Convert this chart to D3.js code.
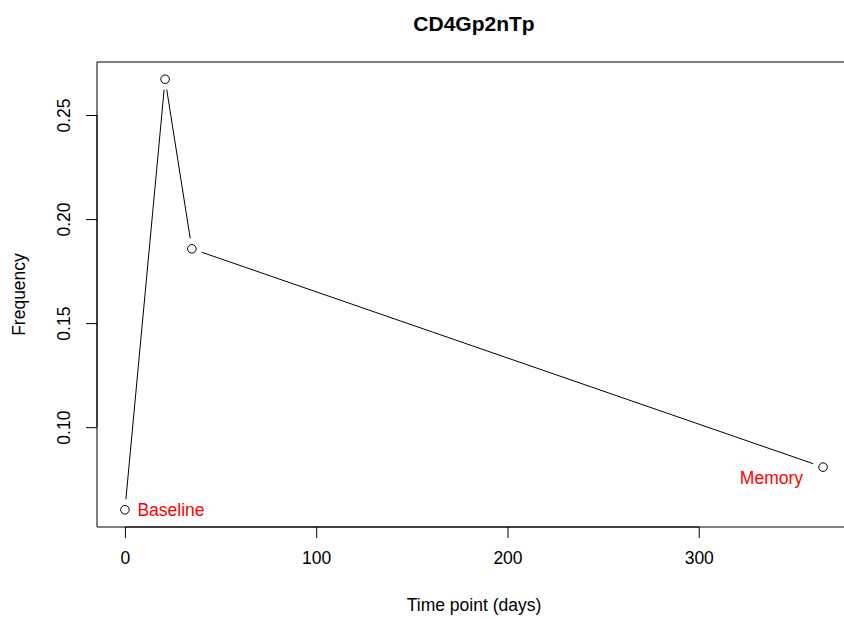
<!DOCTYPE html>
<html><head><meta charset="utf-8">
<script src="https://cdn.jsdelivr.net/npm/d3@7"></script>
<style>html,body{margin:0;padding:0;background:#fff;overflow:hidden}svg{display:block;font-family:"Liberation Sans",Arial,sans-serif}</style>
</head><body>
<svg id="c" width="844" height="619"></svg>
<script>
const days = [0, 21, 35, 365];
const freq = [0.0603, 0.2672, 0.1857, 0.0808];
const pointLabels = ["Baseline", "", "", "Memory"];
const xTicks = [0, 100, 200, 300];
const yTicks = [0.10, 0.15, 0.20, 0.25];
const title = "CD4Gp2nTp";
const xTitle = "Time point (days)";
const yTitle = "Frequency";

const svg = d3.select("#c");
const L = 97, R = 851, T = 62, B = 527;
const xPad = (d3.max(days) - d3.min(days)) * 0.04;
const yPad = (d3.max(freq) - d3.min(freq)) * 0.04;
const x = d3.scaleLinear().domain([d3.min(days) - xPad, d3.max(days) + xPad]).range([L, R]);
const y = d3.scaleLinear().domain([d3.min(freq) - yPad, d3.max(freq) + yPad]).range([B, T]);

// title
svg.append("text").attr("x", 474).attr("y", 31).attr("text-anchor", "middle")
  .attr("font-weight", "bold").attr("font-size", 21).text(title);

// box (right side falls outside the canvas)
svg.append("path").attr("d", `M${R},${T}H${L}V${B}H${R}`)
  .attr("fill", "none").attr("stroke", "#000").attr("stroke-width", 1);

// x axis
const xa = svg.append("g").attr("transform", `translate(0,${B})`)
  .call(d3.axisBottom(x).tickValues(xTicks).tickSize(11).tickPadding(14).tickFormat(d3.format("d")));
xa.select(".domain").attr("d", `M${x(xTicks[0])},0H${x(xTicks[xTicks.length-1])}`);
xa.selectAll("text").attr("font-size", 17.5).attr("font-family", "Liberation Sans, Arial, sans-serif");

// y axis
const ya = svg.append("g").attr("transform", `translate(${L},0)`)
  .call(d3.axisLeft(y).tickValues(yTicks).tickSize(11).tickFormat(d3.format(".2f")));
ya.select(".domain").attr("d", `M0,${y(yTicks[0])}V${y(yTicks[yTicks.length-1])}`);
ya.selectAll(".tick text")
  .attr("font-size", 17.5).attr("font-family", "Liberation Sans, Arial, sans-serif")
  .attr("transform", "rotate(-90)").attr("x", 0).attr("y", -27).attr("dy", 0).attr("text-anchor", "middle");

// axis titles
svg.append("text").attr("x", 474).attr("y", 611).attr("text-anchor", "middle").attr("font-size", 17.5).text(xTitle);
svg.append("text").attr("transform", `translate(25,${(T + B) / 2}) rotate(-90)`).attr("text-anchor", "middle")
  .attr("font-size", 17.5).text(yTitle);

// line segments with gaps (type = "b")
const pts = days.map((d, i) => [x(d), y(freq[i])]);
const gap = 10.5;
for (let i = 0; i < pts.length - 1; i++) {
  const [x0, y0] = pts[i], [x1, y1] = pts[i + 1];
  const dx = x1 - x0, dy = y1 - y0, len = Math.hypot(dx, dy);
  const ux = dx / len, uy = dy / len;
  svg.append("line")
    .attr("x1", x0 + ux * gap).attr("y1", y0 + uy * gap)
    .attr("x2", x1 - ux * gap).attr("y2", y1 - uy * gap)
    .attr("stroke", "#000").attr("stroke-width", 1);
}
svg.selectAll("circle.pt").data(pts).join("circle").attr("class", "pt")
  .attr("cx", d => d[0]).attr("cy", d => d[1]).attr("r", 4.3)
  .attr("fill", "none").attr("stroke", "#000").attr("stroke-width", 1);

// labels
days.forEach((d, i) => {
  if (!pointLabels[i]) return;
  const isLeft = i === 0;
  svg.append("text")
    .attr("x", isLeft ? x(d) + 12.5 : x(d) - 20)
    .attr("y", isLeft ? y(freq[i]) + 6.5 : y(freq[i]) + 16.5)
    .attr("text-anchor", isLeft ? "start" : "end")
    .attr("fill", "#ff0000").attr("font-size", 17.5).text(pointLabels[i]);
});
</script>
</body></html>
